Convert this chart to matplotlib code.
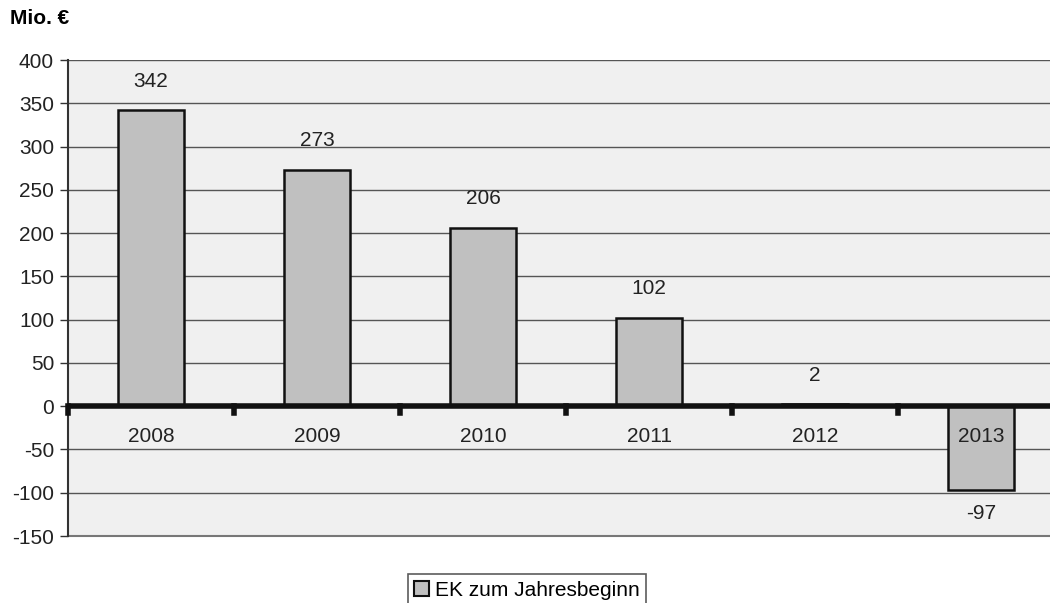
import matplotlib
matplotlib.use("Agg")
import matplotlib.pyplot as plt
from matplotlib.patches import Patch

years = ["2008", "2009", "2010", "2011", "2012", "2013"]
values = [342, 273, 206, 102, 2, -97]
series_name = "EK zum Jahresbeginn"
yticks = [400, 350, 300, 250, 200, 150, 100, 50, 0, -50, -100, -150]

plt.rcParams['font.family'] = ['Liberation Sans', 'DejaVu Sans']
FS = 15

fig = plt.figure(figsize=(10.5, 6.03), dpi=100)
ax = fig.add_axes([68/1050, 1-536/603, 1-68/1050, (536-60)/603])
ax.set_facecolor("#f0f0f0")

x = list(range(len(years)))
ax.bar(x, values, width=0.4, color="#c0c0c0", edgecolor="#111111", linewidth=1.8, zorder=3)

ax.set_ylim(-150, 400)
ax.set_xlim(-0.5, 5.5 - 14/166)
ax.set_yticks(yticks)
ax.set_yticklabels([str(v) for v in yticks], fontsize=FS, color="#222222")
ax.yaxis.grid(True, color="#555555", linewidth=1.0, zorder=1)
ax.set_axisbelow(True)
ax.axhline(-150, color="#777777", linewidth=1.5, zorder=1, clip_on=False)
ax.tick_params(axis='y', length=6, width=1.0, color="#333333", pad=4)
ax.set_xticks([])

for s in ["top", "right", "bottom"]:
    ax.spines[s].set_visible(False)
ax.spines["left"].set_color("#333333")
ax.spines["left"].set_linewidth(1.5)

# zero line
ax.axhline(0, color="#111111", linewidth=4, zorder=4)
# category boundary marks
for b in range(len(years)):
    ax.plot([b - 0.5, b - 0.5], [0, -8], color="#111111", linewidth=4, zorder=4, clip_on=False)

# year labels and value labels
for xi, yr, v in zip(x, years, values):
    ax.text(xi, -35, yr, ha="center", va="center", fontsize=FS, color="#222222", zorder=5)
    if v >= 0:
        ax.annotate(str(v), (xi, v), xytext=(0, 21), textcoords="offset points",
                    ha="center", va="center", fontsize=FS, color="#222222")
    else:
        ax.annotate(str(v), (xi, v), xytext=(0, -17), textcoords="offset points",
                    ha="center", va="center", fontsize=FS, color="#222222")

fig.text(10/1050, 1-18/603, "Mio. €", fontsize=FS, fontweight="bold", va="center", ha="left")

handle = Patch(facecolor="#c0c0c0", edgecolor="#111111", linewidth=1.5)
leg = fig.legend([handle], [series_name], loc="center", bbox_to_anchor=(527/1050, 1-590/603),
                 fontsize=FS, frameon=True, fancybox=False, edgecolor="#333333",
                 handlelength=0.7, handleheight=0.7, handletextpad=0.3, borderpad=0.3)
leg.get_frame().set_linewidth(1.2)

fig.savefig("out.png", dpi=100)
